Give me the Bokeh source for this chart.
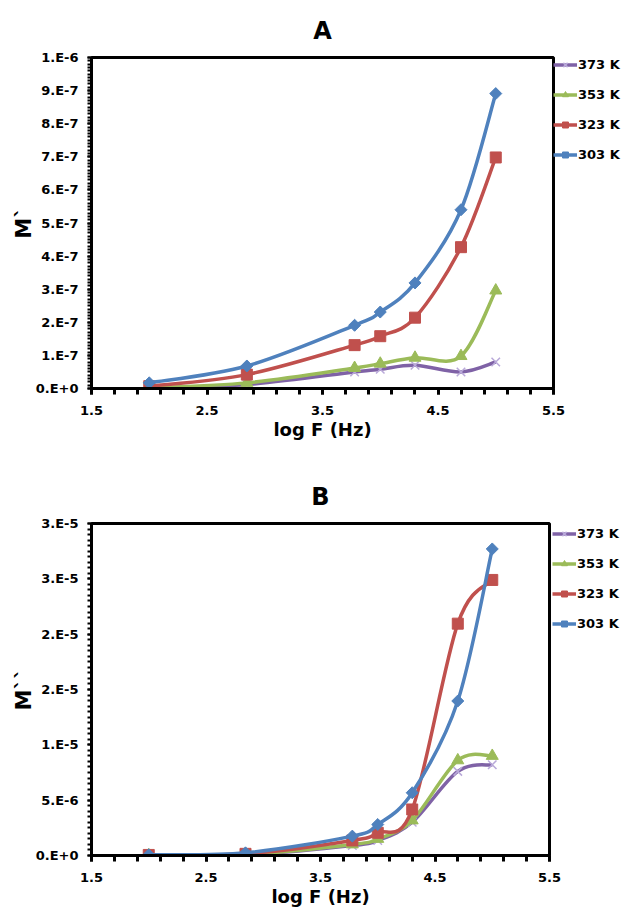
import math
from bokeh.plotting import figure
from bokeh.models import Range1d, FixedTicker, Legend, LegendItem
from bokeh.layouts import column
from bokeh.embed import file_html
from bokeh.resources import INLINE

# ---------------- data ----------------
log_f = [2.0, 2.845, 3.778, 4.0, 4.301, 4.699, 5.0]
series_labels = ["373 K", "353 K", "323 K", "303 K"]

A_373 = [0.1e-8, 1.2e-8, 5.0e-8, 5.8e-8, 7.0e-8, 5.0e-8, 8.0e-8]
A_353 = [0.2e-8, 1.7e-8, 6.2e-8, 7.5e-8, 9.3e-8, 9.8e-8, 2.96e-7]
A_323 = [0.7e-8, 4.2e-8, 1.31e-7, 1.58e-7, 2.14e-7, 4.27e-7, 6.98e-7]
A_303 = [1.7e-8, 6.8e-8, 1.91e-7, 2.31e-7, 3.19e-7, 5.40e-7, 8.91e-7]

B_373 = [0.01e-6, 0.06e-6, 0.90e-6, 1.36e-6, 3.00e-6, 7.60e-6, 8.20e-6]
B_353 = [0.02e-6, 0.10e-6, 1.00e-6, 1.50e-6, 3.17e-6, 8.60e-6, 9.00e-6]
B_323 = [0.05e-6, 0.15e-6, 1.36e-6, 2.05e-6, 4.16e-6, 20.95e-6, 24.9e-6]
B_303 = [0.06e-6, 0.24e-6, 1.75e-6, 2.80e-6, 5.67e-6, 13.96e-6, 27.7e-6]

x_tick_vals = [1.5, 2.5, 3.5, 4.5, 5.5]
x_tick_labels = ["1.5", "2.5", "3.5", "4.5", "5.5"]

A_ytick_vals = [0.0, 1e-7, 2e-7, 3e-7, 4e-7, 5e-7, 6e-7, 7e-7, 8e-7, 9e-7, 1e-6]
A_ytick_labels = ["0.E+0", "1.E-7", "2.E-7", "3.E-7", "4.E-7", "5.E-7",
                  "6.E-7", "7.E-7", "8.E-7", "9.E-7", "1.E-6"]

B_ytick_vals = [0.0, 5e-6, 1e-5, 1.5e-5, 2e-5, 2.5e-5, 3e-5]
B_ytick_labels = ["0.E+0", "5.E-6", "1.E-5", "2.E-5", "2.E-5", "3.E-5", "3.E-5"]

# ---------------- styles ----------------
FONT = "DejaVu Sans"
colors = {"373 K": "#7F62A6", "353 K": "#9BBB59", "323 K": "#C0504D", "303 K": "#4F81BD"}
marker_colors = {"373 K": "#B9A9D9", "353 K": "#9BBB59", "323 K": "#C0504D", "303 K": "#4F81BD"}
markers = {"373 K": "x", "353 K": "triangle", "323 K": "square", "303 K": "square"}
mangles = {"373 K": 0.0, "353 K": 0.0, "323 K": 0.0, "303 K": math.pi / 4}
msizes = {"373 K": 12, "353 K": 12, "323 K": 11, "303 K": 8.5}


def bezier_controls(xs, ys, t=1.0 / 6.0):
    n = len(xs)
    x0s, y0s, x1s, y1s, cx0, cy0, cx1, cy1 = [], [], [], [], [], [], [], []
    for i in range(n - 1):
        pxm, pym = (xs[i - 1], ys[i - 1]) if i > 0 else (xs[i], ys[i])
        px0, py0 = xs[i], ys[i]
        px1, py1 = xs[i + 1], ys[i + 1]
        pxp, pyp = (xs[i + 2], ys[i + 2]) if i + 2 < n else (xs[i + 1], ys[i + 1])
        x0s.append(px0); y0s.append(py0); x1s.append(px1); y1s.append(py1)
        cx0.append(px0 + (px1 - pxm) * t); cy0.append(py0 + (py1 - pym) * t)
        cx1.append(px1 - (pxp - px0) * t); cy1.append(py1 - (pyp - py0) * t)
    return dict(x0=x0s, y0=y0s, x1=x1s, y1=y1s, cx0=cx0, cy0=cy0, cx1=cx1, cy1=cy1)


def make_panel(title, ylabel, series, ymax, yticks, ylabels, yminor,
               fw, fh, bl, br, bt, bb, leg_margin, title_standoff):
    p = figure(frame_width=fw, frame_height=fh, output_backend="svg", toolbar_location=None,
               x_range=Range1d(1.5, 5.5), y_range=Range1d(0, ymax),
               min_border_left=bl, min_border_right=br, min_border_top=bt,
               min_border_bottom=bb)
    p.title.text = title
    p.title.align = "center"
    p.title.text_font = FONT
    p.title.text_font_size = "24px"
    p.title.text_font_style = "bold"
    p.title.text_color = "black"
    p.title.standoff = title_standoff

    p.grid.visible = False
    p.background_fill_color = "white"
    p.border_fill_color = "white"
    p.outline_line_color = "black"
    p.outline_line_width = 3
    p.outline_line_alpha = 1

    # x axis
    xminor = [round(1.5 + 0.2 * i, 6) for i in range(21)]
    p.xaxis.ticker = FixedTicker(ticks=x_tick_vals, minor_ticks=xminor)
    p.xaxis.major_label_overrides = dict(zip(x_tick_vals, x_tick_labels))
    p.xaxis.axis_label = "log F (Hz)"
    # y axis
    p.yaxis.ticker = FixedTicker(ticks=yticks, minor_ticks=yminor)
    p.yaxis.major_label_overrides = dict(zip(yticks, ylabels))
    p.yaxis.axis_label = ylabel

    for ax in (p.xaxis[0], p.yaxis[0]):
        ax.axis_line_color = "black"
        ax.axis_line_width = 3
        ax.major_tick_line_color = "black"
        ax.minor_tick_line_color = "black"
        ax.major_label_text_font = FONT
        ax.major_label_text_font_style = "bold"
        ax.major_label_text_font_size = "13px"
        ax.major_label_text_color = "black"
        ax.axis_label_text_font = FONT
        ax.axis_label_text_font_style = "bold"
        ax.axis_label_text_color = "black"
        ax.major_tick_in = 0
        ax.minor_tick_in = 0

    xa = p.xaxis[0]
    xa.major_tick_out = 6
    xa.minor_tick_out = 6
    xa.major_tick_line_width = 3
    xa.minor_tick_line_width = 3
    xa.major_label_standoff = 11
    xa.axis_label_text_font_size = "18px"
    xa.axis_label_standoff = 1

    ya = p.yaxis[0]
    ya.major_tick_out = 4
    ya.minor_tick_out = 4
    ya.major_tick_line_width = 2
    ya.minor_tick_line_width = 2
    ya.major_label_standoff = 9
    ya.axis_label_text_font_size = "21px"
    ya.axis_label_standoff = -3

    items = []
    for lab in series_labels:
        ys = series[lab]
        ctrl = bezier_controls(log_f, ys)
        lr = p.bezier(x0=ctrl["x0"], y0=ctrl["y0"], x1=ctrl["x1"], y1=ctrl["y1"],
                      cx0=ctrl["cx0"], cy0=ctrl["cy0"], cx1=ctrl["cx1"], cy1=ctrl["cy1"],
                      line_color=colors[lab], line_width=3.5)
        if markers[lab] == "x":
            sr = p.scatter(log_f, ys, marker="x", size=msizes[lab],
                           line_color=marker_colors[lab], line_width=1.5)
        else:
            sr = p.scatter(log_f, ys, marker=markers[lab], size=msizes[lab],
                           angle=mangles[lab],
                           fill_color=marker_colors[lab], line_color=marker_colors[lab],
                           line_width=1)
        items.append(LegendItem(label=lab, renderers=[lr, sr]))

    leg = Legend(items=items, location="top_left")
    leg.label_text_font = FONT
    leg.label_text_font_style = "bold"
    leg.label_text_font_size = "13px"
    leg.label_text_color = "black"
    leg.background_fill_alpha = 0
    leg.border_line_alpha = 0
    leg.padding = 0
    leg.margin = leg_margin
    leg.spacing = 15
    leg.glyph_height = 15
    leg.label_height = 15
    leg.glyph_width = 24
    leg.label_standoff = 1
    p.add_layout(leg, "right")
    return p


A_minor = [round(i * 1e-8, 12) for i in range(101)]
B_minor = [round(i * 5e-7, 12) for i in range(61)]

pA = make_panel("A", "M`",
                {"373 K": A_373, "353 K": A_353, "323 K": A_323, "303 K": A_303},
                1e-6, A_ytick_vals, A_ytick_labels, A_minor,
                462, 331, 91, 79, 57, 72, 0, 26)
pB = make_panel("B", "M``",
                {"373 K": B_373, "353 K": B_353, "323 K": B_323, "303 K": B_303},
                3e-5, B_ytick_vals, B_ytick_labels, B_minor,
                458, 332, 88, 86, 63, 66, 3, 26)

layout = column(pA, pB)
open("out.html", "w").write(file_html(layout, INLINE))
